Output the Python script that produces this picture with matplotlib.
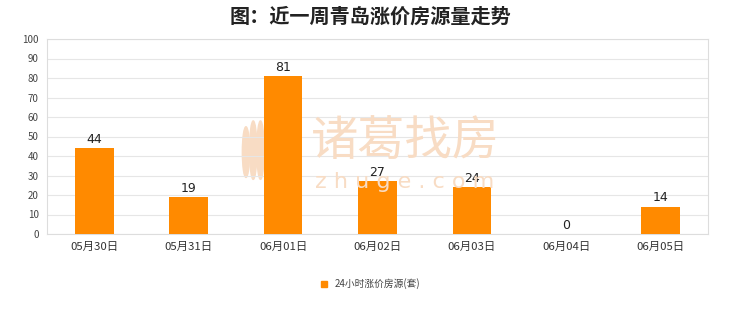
import matplotlib
matplotlib.use("Agg")
import matplotlib.pyplot as plt
from matplotlib.patches import Rectangle, Ellipse

plt.rcParams['font.family'] = ['Noto Sans CJK SC', 'DejaVu Sans']

categories = ["05月30日", "05月31日", "06月01日", "06月02日", "06月03日", "06月04日", "06月05日"]
values = [44, 19, 81, 27, 24, 0, 14]
series_name = "24小时涨价房源(套)"
title = "图：近一周青岛涨价房源量走势"
y_ticks = [0, 10, 20, 30, 40, 50, 60, 70, 80, 90, 100]

bar_color = "#FF8A00"
grid_color = "#E6E6E6"

fig = plt.figure(figsize=(7.4, 3.12), dpi=100)
fig.patch.set_facecolor("white")

ax = fig.add_axes([47 / 740, 1 - 234 / 312, 661 / 740, 195 / 312])
x = list(range(len(categories)))
ax.bar(x, values, width=0.41, color=bar_color, zorder=3)

for xi, v in zip(x, values):
    ax.text(xi, v + 1.2, str(v), ha="center", va="bottom", fontsize=9,
            family=["DejaVu Sans"], color="#222222", zorder=4)

ax.set_xlim(-0.5, len(categories) - 0.5)
ax.set_ylim(0, 100)
ax.set_yticks(y_ticks)
ax.set_xticks(x)
ax.set_xticklabels(categories, fontsize=8.2, color="#333333")
ax.tick_params(axis="y", labelsize=7, colors="#444444", length=0, pad=6)
ax.tick_params(axis="x", length=0, pad=6)
ax.grid(axis="y", color=grid_color, linewidth=0.8, zorder=0)
for side in ["left", "right", "top", "bottom"]:
    ax.spines[side].set_color("#DDDDDD")
    ax.spines[side].set_linewidth(0.8)

# watermark behind the bars
wm = "#F8DCC4"
fig.text(405 / 740, 1 - 142 / 312, "诸葛找房", ha="center", va="center",
         fontsize=34, color=wm, zorder=1)
fig.text(405 / 740, 1 - 182 / 312, "z h u g e . c o m", ha="center", va="center",
         fontsize=16, color=wm, family=["DejaVu Sans"], zorder=1)
# feather-shaped logo made of upright leaves
for cx, cy, w, h in [(0.301, 0.42, 0.011, 0.26), (0.312, 0.43, 0.011, 0.30),
                     (0.323, 0.43, 0.011, 0.30), (0.334, 0.42, 0.011, 0.28)]:
    ax.add_patch(Ellipse((cx, cy), w, h, transform=ax.transAxes,
                         color=wm, zorder=1))

fig.text(0.5, 1 - 16 / 312, title, ha="center", va="center",
         fontsize=14.5, fontweight="bold", color="#222222")

# legend
fig.patches.append(Rectangle((321 / 740, 1 - 287 / 312), 6 / 740, 6 / 312,
                             transform=fig.transFigure, color=bar_color))
fig.text(335 / 740, 1 - 283.5 / 312, series_name, ha="left", va="center",
         fontsize=7, color="#444444")

fig.savefig("out.png", dpi=100, facecolor="white")
